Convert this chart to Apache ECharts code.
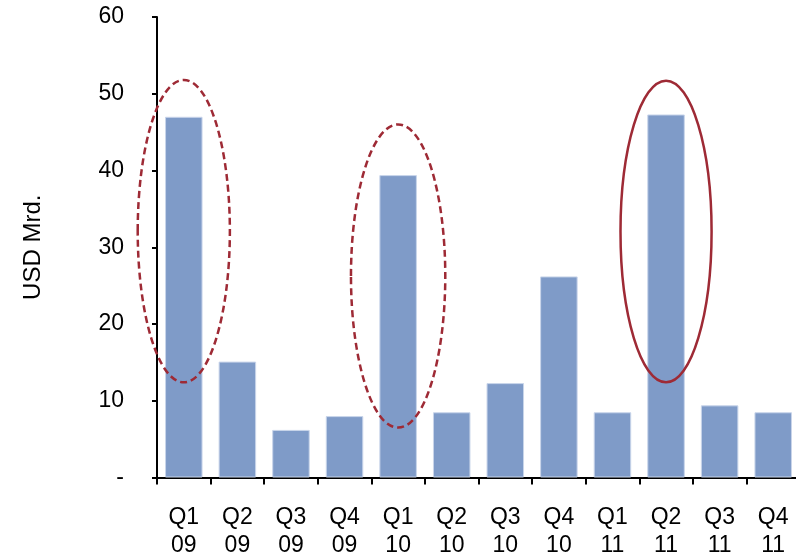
<!DOCTYPE html>
<html>
<head>
<meta charset="utf-8">
<script src="https://cdn.jsdelivr.net/npm/echarts@6/dist/echarts.min.js"></script>
<style>
  html, body { margin: 0; padding: 0; background: #fff; }
  #chart { width: 796px; height: 556px; }
</style>
</head>
<body>
<div id="chart"></div>
<script>
// Quarterly volumes, USD Mrd.
const quarters = ['Q1\n09', 'Q2\n09', 'Q3\n09', 'Q4\n09', 'Q1\n10', 'Q2\n10',
                  'Q3\n10', 'Q4\n10', 'Q1\n11', 'Q2\n11', 'Q3\n11', 'Q4\n11'];
const volumes = [47.0, 15.1, 6.2, 8.0, 39.4, 8.5, 12.3, 26.2, 8.5, 47.3, 9.4, 8.5];

// Highlight rings: [category position, top value, bottom value, half width in categories, dashed?]
const highlights = [
  [-0.12, 51.8, 12.4, 0.86, 1],
  [3.98, 46.0, 6.5, 0.88, 1],
  [8.98, 51.7, 12.4, 0.85, 0]
];

const FONT = '"Liberation Sans", Arial, sans-serif';
const RED = '#9e2a35';

const chart = echarts.init(document.getElementById('chart'), null, { renderer: 'canvas' });

chart.setOption({
  animation: false,
  backgroundColor: '#ffffff',
  grid: {
    left: 157, top: 17, bottom: 78.5, width: 643,
    containLabel: false, outerBoundsMode: 'none'
  },
  xAxis: {
    type: 'category',
    data: quarters,
    boundaryGap: true,
    axisLine: { lineStyle: { color: '#000', width: 2 } },
    axisTick: { show: true, alignWithLabel: false, length: 7, lineStyle: { color: '#000', width: 2 } },
    axisLabel: { color: '#000', fontFamily: FONT, fontSize: 23, lineHeight: 28, margin: 26, interval: 0 },
    splitLine: { show: false }
  },
  yAxis: {
    type: 'value',
    min: 0,
    max: 60,
    interval: 10,
    name: 'USD Mrd.',
    nameLocation: 'middle',
    nameGap: 112,
    nameTextStyle: { color: '#000', fontFamily: FONT, fontSize: 24 },
    axisLine: { show: true, lineStyle: { color: '#000', width: 2 } },
    axisTick: { show: true, length: 5, lineStyle: { color: '#000', width: 2 } },
    axisLabel: {
      color: '#000', fontFamily: FONT, fontSize: 23, margin: 33,
      formatter: v => (v === 0 ? '-' : String(v))
    },
    splitLine: { show: false }
  },
  series: [
    {
      type: 'bar',
      data: volumes,
      barCategoryGap: '30%',
      itemStyle: { color: '#7f9bc8', borderColor: '#c9d5ea', borderWidth: 1 }
    },
    {
      type: 'custom',
      data: highlights,
      z: 10,
      clip: false,
      renderItem: function (params, api) {
        const x = api.value(0);
        const top = api.coord([x, api.value(1)]);
        const bottom = api.coord([x, api.value(2)]);
        const w = api.size([1, 0])[0] * api.value(3);
        const dashed = api.value(4) === 1;
        return {
          type: 'ellipse',
          shape: { cx: top[0], cy: (top[1] + bottom[1]) / 2, rx: w, ry: (bottom[1] - top[1]) / 2 },
          style: {
            fill: 'none',
            stroke: RED,
            lineWidth: 2.5,
            lineDash: dashed ? [7, 4] : null
          }
        };
      }
    }
  ]
});
</script>
</body>
</html>
